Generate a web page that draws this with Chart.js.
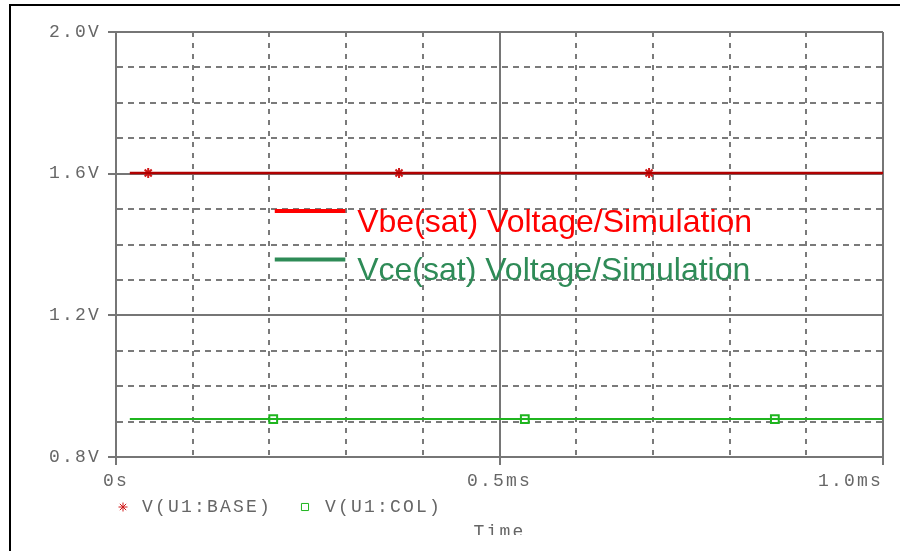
<!DOCTYPE html>
<html>
<head>
<meta charset="utf-8">
<script src="https://cdn.jsdelivr.net/npm/chart.js@4.4.1/dist/chart.umd.min.js"></script>
<style>
  body { margin: 0; background: #fff; }
  #wrap { position: relative; width: 900px; height: 551px; overflow: hidden; }
  #graph { position: absolute; left: 0; top: 0; }
  #cut { position: absolute; left: 11px; right: 0; top: 535px; bottom: 0; background: #fff; }
  #frame { position: absolute; left: 9px; top: 4px; right: 0; bottom: 0; border-left: 2px solid #000; border-top: 2px solid #000; pointer-events: none; }
</style>
</head>
<body>
<div id="wrap">
  <canvas id="graph" width="900" height="551"></canvas>
  <div id="cut"></div>
  <div id="frame"></div>
</div>
<script>
// values (time in ms, volts)
const traceTime = [0.018, 1.0];
const baseVolts = [1.602, 1.602];
const colVolts = [0.907, 0.907];
const baseMarkerTime = [0.042, 0.369, 0.695];
const baseMarkerVolts = [1.602, 1.602, 1.602];
const colMarkerTime = [0.205, 0.533, 0.859];
const colMarkerVolts = [0.907, 0.907, 0.907];
const traceNames = ['V(U1:BASE)', 'V(U1:COL)'];
const noteNames = ['Vbe(sat) Voltage/Simulation', 'Vce(sat) Voltage/Simulation'];
const yTickValues = [0.8, 1.2, 1.6, 2.0];
const yTickLabels = ['0.8V', '1.2V', '1.6V', '2.0V'];
const xTickValues = [0, 0.5, 1.0];
const xTickLabels = ['0s', '0.5ms', '1.0ms'];
const xTitle = 'Time';

const textGray = '#666666';
const gridGray = '#7a7a7a';
const monoFont = { family: "'Liberation Mono', 'Courier New', monospace", size: 18 };
const spacing = '2.2px';
const baseRed = '#b00000';
const markRed = '#d01818';
const colGreen = '#1fb51f';
const noteRed = '#ff0000';
const noteGreen = '#2e8b57';

function toPoints(xs, ys) {
    return xs.map((x, i) => ({ x: x, y: ys[i] }));
}

function labelFor(value, values, labels) {
    const i = values.findIndex(v => Math.abs(v - value) < 1e-6);
    return i >= 0 ? labels[i] : '';
}

function isMajor(ctx, values) {
    return !!ctx.tick && values.some(v => Math.abs(v - ctx.tick.value) < 1e-6);
}

const monoSpacing = {
    id: 'monoSpacing',
    beforeLayout(chart) { chart.ctx.letterSpacing = spacing; },
    beforeDraw(chart) {
        chart.ctx.letterSpacing = spacing;
        // first time label centred on its tick, last one kept inside the plot
        const items = chart.scales.x.getLabelItems();
        if (items.length) items[0].options.textAlign = 'center';
    }
};

const legends = {
    id: 'legends',
    afterDraw(chart) {
        const ctx = chart.ctx;
        const a = chart.chartArea;
        const w = a.right - a.left, h = a.bottom - a.top;

        // annotation in the middle of the plot
        ctx.save();
        ctx.letterSpacing = '0px';
        ctx.font = "32px 'Liberation Sans', Arial, sans-serif";
        ctx.textBaseline = 'alphabetic';
        ctx.textAlign = 'left';
        const lx1 = a.left + w * 0.207, lx2 = a.left + w * 0.299, tx = a.left + w * 0.3145;
        [[noteRed, 0.421, 0.4705], [noteGreen, 0.535, 0.5835]].forEach((n, i) => {
            ctx.strokeStyle = n[0];
            ctx.lineWidth = 4;
            ctx.beginPath();
            ctx.moveTo(lx1, a.top + h * n[1]);
            ctx.lineTo(lx2, a.top + h * n[1]);
            ctx.stroke();
            ctx.fillStyle = n[0];
            ctx.fillText(noteNames[i], tx, a.top + h * n[2]);
        });
        ctx.restore();

        // trace legend under the time axis
        ctx.save();
        ctx.letterSpacing = spacing;
        ctx.font = "18px 'Liberation Mono', 'Courier New', monospace";
        ctx.textBaseline = 'middle';
        ctx.textAlign = 'left';
        const ly = a.bottom + 50;
        ctx.strokeStyle = markRed;
        Chart.helpers.drawPoint(ctx, { pointStyle: 'star', radius: 4.5, rotation: 0, borderWidth: 2 }, a.left + 7, ly);
        ctx.fillStyle = textGray;
        ctx.fillText(traceNames[0], a.left + 26, ly);
        ctx.strokeStyle = colGreen;
        ctx.fillStyle = '#fff';
        Chart.helpers.drawPoint(ctx, { pointStyle: 'rect', radius: 5, rotation: 0, borderWidth: 2 }, a.left + 189, ly);
        ctx.fillStyle = textGray;
        ctx.fillText(traceNames[1], a.left + 209, ly);
        ctx.restore();
    }
};

function drawChart() {
    const data = {
        datasets: [
            {
                label: traceNames[0],
                data: toPoints(traceTime, baseVolts),
                borderColor: baseRed,
                borderWidth: 2.5,
                pointRadius: 0
            },
            {
                label: traceNames[1],
                data: toPoints(traceTime, colVolts),
                borderColor: colGreen,
                borderWidth: 2,
                pointRadius: 0
            },
            {
                label: traceNames[0] + ' markers',
                data: toPoints(baseMarkerTime, baseMarkerVolts),
                showLine: false,
                pointStyle: 'star',
                pointRadius: 5,
                pointBorderWidth: 2,
                pointBorderColor: markRed,
                pointBackgroundColor: markRed
            },
            {
                label: traceNames[1] + ' markers',
                data: toPoints(colMarkerTime, colMarkerVolts),
                showLine: false,
                pointStyle: 'rect',
                pointRadius: 5.5,
                pointBorderWidth: 2,
                pointBorderColor: colGreen,
                pointBackgroundColor: '#fff'
            }
        ]
    };

    const config = {
        type: 'line',
        data: data,
        options: {
            responsive: false,
            animation: false,
            layout: { padding: { top: 32, right: 17, left: 0, bottom: 0 } },
            plugins: {
                legend: { display: false },
                tooltip: { enabled: false }
            },
            scales: {
                x: {
                    type: 'linear',
                    min: 0,
                    max: 1.0,
                    afterFit: s => { s.height = 94; },
                    ticks: {
                        stepSize: 0.1,
                        autoSkip: false,
                        maxRotation: 0,
                        align: 'inner',
                        padding: 5,
                        color: textGray,
                        font: monoFont,
                        callback: v => labelFor(v, xTickValues, xTickLabels)
                    },
                    grid: {
                        color: ctx => isMajor(ctx, xTickValues) ? '#767676' : gridGray,
                        lineWidth: 2,
                        tickLength: 8,
                        tickWidth: 2,
                        tickColor: ctx => isMajor(ctx, xTickValues) ? '#767676' : 'rgba(0,0,0,0)'
                    },
                    border: {
                        color: '#767676',
                        width: 2,
                        dash: ctx => (!ctx.tick || isMajor(ctx, xTickValues)) ? [] : [5, 6]
                    },
                    title: {
                        display: true,
                        text: xTitle,
                        color: textGray,
                        font: monoFont,
                        padding: { top: 0, bottom: 8 }
                    }
                },
                y: {
                    type: 'linear',
                    min: 0.8,
                    max: 2.0,
                    afterFit: s => { s.width = 116; },
                    ticks: {
                        stepSize: 0.1,
                        autoSkip: false,
                        padding: 7,
                        color: textGray,
                        font: monoFont,
                        callback: v => labelFor(v, yTickValues, yTickLabels)
                    },
                    grid: {
                        color: ctx => isMajor(ctx, yTickValues) ? '#767676' : gridGray,
                        lineWidth: 2,
                        tickLength: 8,
                        tickWidth: 2,
                        tickColor: ctx => isMajor(ctx, yTickValues) ? '#767676' : 'rgba(0,0,0,0)'
                    },
                    border: {
                        color: '#767676',
                        width: 2,
                        dash: ctx => (!ctx.tick || isMajor(ctx, yTickValues)) ? [] : [6, 5]
                    }
                }
            }
        },
        plugins: [monoSpacing, legends]
    };

    new Chart(document.getElementById('graph'), config);
}

drawChart();
</script>
</body>
</html>
